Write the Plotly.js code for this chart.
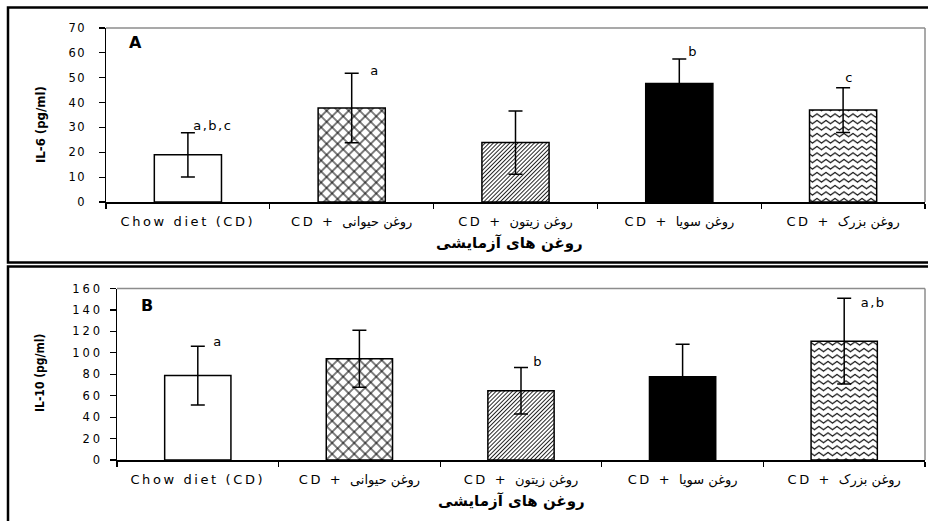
<!DOCTYPE html>
<html><head><meta charset="utf-8">
<script src="https://cdn.plot.ly/plotly-3.0.1.min.js"></script>
<style>
body{margin:0;background:#fff}
#chart{width:928px;height:521px}
.xtick text,.x2tick text{letter-spacing:2.6px}
.ytick text{letter-spacing:1.5px}
.y2tick text{letter-spacing:3px}
</style></head><body><div id="chart"></div>
<script>
// ---- data ----
const categories = ['Chow diet (CD)', 'CD + روغن حیوانی', 'CD + روغن زیتون', 'CD + روغن سویا', 'CD + روغن بزرک'];
const il6Mean = [19.0, 37.8, 23.9, 47.7, 37.0];
const il6SD = [8.9, 14.0, 12.7, 9.8, 9.0];
const il6Letters = ['a,b,c', 'a', '', 'b', 'c'];
const il10Mean = [78.8, 94.5, 64.6, 77.6, 110.8];
const il10SD = [27.4, 26.6, 21.8, 30.5, 40.0];
const il10Letters = ['a', '', 'b', '', 'a,b'];
const il6Range = [0, 70];
const il10Range = [0, 160];
const xTitle = 'روغن های آزمایشی';
const il6Title = 'IL-6 (pg/ml)';
const il10Title = 'IL-10 (pg/ml)';
const panelLabels = ['A', 'B'];

// ---- styles ----
const W = 928, H = 521;
const px = v => v / W, py = v => 1 - v / H;
const fills = ['white', 'white', 'white', 'black', 'white'];
const patShapes = ['', 'x', '/', '', '-'];
const FONT = 'DejaVu Sans, Liberation Sans, sans-serif';
const NARROW = 'Liberation Sans Narrow, DejaVu Sans Condensed, Arial Narrow, sans-serif';
// hand-made pattern tiles (diamond lattice, fine diagonal stripes, zigzag)
const patternTiles = {
  'x': {w: 7.8, h: 7.8, d: 'M0,3.9H7.8M3.9,0V7.8', t: 'rotate(45)', sw: 1},
  '/': {w: 2.9, h: 4, d: 'M1.45,-1V5', t: 'rotate(45)', sw: 0.85},
  '-': {w: 9, h: 6.5, d: 'M-4.5,4.6L0,1.4L4.5,4.6L9,1.4L13.5,4.6', t: '', sw: 1.15}
};
// label offsets (pixels) for significance letters
const il6Shift = [[7, 7, 'left'], [17, 3, 'left'], [0, 0, 'left'], [8, 8, 'left'], [6, 10, 'center']];
const il10Shift = [[14, 5, 'left'], [0, 0, 'left'], [11, 6, 'left'], [0, 0, 'left'], [17, -4, 'left']];

function barTrace(means, sds, xa, ya) {
  return {
    type: 'bar', x: categories, y: means, xaxis: xa, yaxis: ya, width: 0.41,
    marker: {color: fills, line: {color: 'black', width: 1.5}},
    error_y: {type: 'data', array: sds, visible: true, color: 'black', thickness: 1.5, width: 7},
    hoverinfo: 'none', showlegend: false
  };
}

const traces = [barTrace(il6Mean, il6SD, 'x', 'y'), barTrace(il10Mean, il10SD, 'x2', 'y2')];

function xAxis(dom, anchor) {
  return {domain: dom, anchor: anchor, type: 'category', tickson: 'boundaries', ticks: 'outside', ticklen: 5,
    tickcolor: 'black', tickwidth: 1.2, showline: true, linecolor: 'black', linewidth: 1.5,
    showgrid: false, zeroline: false, range: [-0.5, 4.5], fixedrange: true, ticklabelstandoff: 7,
    tickfont: {family: FONT, size: 13, color: 'black'}};
}
function yAxis(dom, anchor, rng, dt, standoff) {
  return {domain: dom, anchor: anchor, range: rng, dtick: dt, ticks: 'outside', ticklen: 6,
    tickcolor: 'black', tickwidth: 1.2, showline: true, linecolor: 'black', linewidth: 1.5,
    showgrid: false, zeroline: false, fixedrange: true, ticklabelstandoff: standoff,
    tickfont: {family: FONT, size: 11.5, color: 'black'}};
}

const annotations = [];
function letters(lbls, means, sds, shifts, xr, yr) {
  lbls.forEach((t, i) => {
    if (!t) return;
    annotations.push({x: categories[i], y: means[i] + sds[i], xref: xr, yref: yr, text: t, showarrow: false,
      xanchor: shifts[i][2], yanchor: 'middle', xshift: shifts[i][0], yshift: shifts[i][1],
      font: {family: FONT, size: 13, color: 'black'}});
  });
}
letters(il6Letters, il6Mean, il6SD, il6Shift, 'x', 'y');
letters(il10Letters, il10Mean, il10SD, il10Shift, 'x2', 'y2');
const nLetterAnn = annotations.length;
function paperText(x, y, text, font, angle) {
  return {x: px(x), y: py(y), xref: 'paper', yref: 'paper', text: text, showarrow: false,
    xanchor: 'center', yanchor: 'middle', textangle: angle || 0, font: font};
}
annotations.push(
  paperText(135, 43, '<b>' + panelLabels[0] + '</b>', {family: FONT, size: 16, color: 'black'}),
  paperText(147, 305, '<b>' + panelLabels[1] + '</b>', {family: FONT, size: 16, color: 'black'}),
  paperText(40, 125, '<b>' + il6Title + '</b>', {family: NARROW, size: 13, color: 'black'}, -90),
  paperText(40, 373, '<b>' + il10Title + '</b>', {family: NARROW, size: 12, color: 'black'}, -90),
  paperText(510, 243, '<b>' + xTitle + '</b>', {family: FONT, size: 15, color: 'black'}),
  paperText(511, 501, '<b>' + xTitle + '</b>', {family: FONT, size: 15, color: 'black'})
);

const shapes = [
  // panel frames
  {type: 'rect', xref: 'paper', yref: 'paper', x0: px(8), x1: px(930), y0: py(262.5), y1: py(7.5), line: {color: 'black', width: 2.5}},
  {type: 'rect', xref: 'paper', yref: 'paper', x0: px(8), x1: px(930), y0: py(530), y1: py(266.5), line: {color: 'black', width: 2.5}},
  // grey plot-area frame (top and right)
  {type: 'line', xref: 'x domain', yref: 'y domain', x0: 0, x1: 1, y0: 1, y1: 1, line: {color: '#8c8c8c', width: 1.5}},
  {type: 'line', xref: 'x domain', yref: 'y domain', x0: 1, x1: 1, y0: 0, y1: 1, line: {color: '#8c8c8c', width: 1.5}},
  {type: 'line', xref: 'x2 domain', yref: 'y2 domain', x0: 0, x1: 1, y0: 1, y1: 1, line: {color: '#8c8c8c', width: 1.5}},
  {type: 'line', xref: 'x2 domain', yref: 'y2 domain', x0: 1, x1: 1, y0: 0, y1: 1, line: {color: '#8c8c8c', width: 1.5}}
];

const layout = {
  width: W, height: H, margin: {l: 0, r: 0, t: 0, b: 0},
  paper_bgcolor: 'white', plot_bgcolor: 'white',
  xaxis: xAxis([px(106), px(925)], 'y'),
  yaxis: yAxis([py(202), py(28)], 'x', il6Range, 10, 10),
  xaxis2: xAxis([px(117), px(925)], 'y2'),
  yaxis2: yAxis([py(460), py(288.5)], 'x2', il10Range, 20, 4),
  annotations: annotations, shapes: shapes
};

function finish(gd) {
  const ns = 'http://www.w3.org/2000/svg';
  const svg = gd.querySelector('.main-svg');
  let defs = svg.querySelector('defs');
  if (!defs) { defs = document.createElementNS(ns, 'defs'); svg.insertBefore(defs, svg.firstChild); }
  const ids = {};
  Object.keys(patternTiles).forEach((k, n) => {
    const s = patternTiles[k];
    const id = 'hatch' + n;
    const pat = document.createElementNS(ns, 'pattern');
    pat.setAttribute('id', id);
    pat.setAttribute('width', s.w);
    pat.setAttribute('height', s.h);
    pat.setAttribute('patternUnits', 'userSpaceOnUse');
    if (s.t) pat.setAttribute('patternTransform', s.t);
    const r = document.createElementNS(ns, 'rect');
    r.setAttribute('x', -1); r.setAttribute('y', -1);
    r.setAttribute('width', s.w + 2); r.setAttribute('height', s.h + 2); r.setAttribute('fill', 'white');
    const p = document.createElementNS(ns, 'path');
    p.setAttribute('d', s.d); p.setAttribute('stroke', 'black'); p.setAttribute('fill', 'none');
    p.setAttribute('stroke-width', s.sw);
    pat.appendChild(r); pat.appendChild(p);
    defs.appendChild(pat);
    ids[k] = id;
  });
  gd.querySelectorAll('.barlayer .trace').forEach(tr => {
    tr.querySelectorAll('.point path').forEach((p, i) => {
      const k = patShapes[i];
      if (k && ids[k]) p.style.fill = 'url(#' + ids[k] + ')';
    });
  });
  gd.querySelectorAll('.annotation').forEach(a => {
    const idx = +a.getAttribute('data-index');
    if (idx < nLetterAnn) a.querySelectorAll('text').forEach(t => t.style.letterSpacing = '1.5px');
  });
}

Plotly.newPlot('chart', traces, layout, {staticPlot: true, displayModeBar: false}).then(finish);
</script></body></html>
